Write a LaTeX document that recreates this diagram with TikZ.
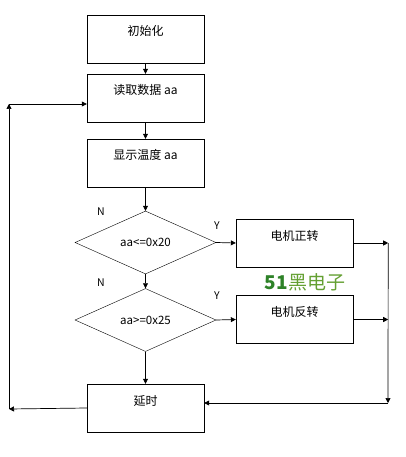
\documentclass[tikz,border=0pt]{standalone}
\usepackage{fontspec}
\setmainfont{Noto Sans CJK SC}
\usepackage{xcolor}
\usetikzlibrary{arrows.meta, positioning, shapes.geometric}

\definecolor{markdark}{RGB}{46,130,40}
\definecolor{marklight}{RGB}{100,160,50}

\begin{document}
\begin{tikzpicture}[
        x=1pt, y=-1pt,
        box/.style={
            draw,
            minimum width=117pt,
            minimum height=48pt,
            text height=9pt,
            text depth=15pt,
            inner sep=0pt,
            font=\fontsize{12}{14}\selectfont
        },
        decision/.style={
            draw,
            diamond,
            aspect=2.24,
            minimum width=141pt,
            minimum height=63pt,
            inner sep=0pt,
            font=\fontsize{11.5}{14}\selectfont
        },
        yn/.style={font=\fontsize{10.5}{12}\selectfont},
        arrow/.style={
            -{Triangle[length=5pt, width=5pt]},
            line width=0.7pt
        }
    ]
    \useasboundingbox (0,0) rectangle (406,457);

    \node[box] (init) at (145.5,39) {初始化};
    \node[box] (read) at (145.5,98) {读取数据 aa};
    \node[box] (show) at (145.5,163) {显示温度 aa};

    \node[decision] (cmp1) at (145.5,242.5) {aa<=0x20};
    \node[decision] (cmp2) at (145.5,320) {aa>=0x25};

    \node[box] (fwd) at (294.5,243) {电机正转};
    \node[box] (rev) at (294.5,319.5) {电机反转};
    \node[box] (delay) at (145.5,408) {延时};

    \node[yn] (n1) at (101,212) {N};
    \node[yn] (y1) at (217,226) {Y};
    \node[yn] (n2) at (101,283) {N};
    \node[yn] (y2) at (217,296) {Y};

    \node[font=\fontsize{19}{22}\selectfont] (mark) at (305,282)
    {\textbf{\color{markdark}51}\color{marklight}黑电子};

    \coordinate (fwdend) at ([xshift=35pt]fwd.east);
    \coordinate (revend) at ([xshift=35pt]rev.east);
    \coordinate (rcorner) at (388,403);
    \coordinate (lbot) at (9,409);
    \coordinate (ltop) at (9,104);

    % main flow
    \draw[arrow] (init) -- (read);
    \draw[arrow] (read) -- (show);
    \draw[arrow] (show) -- (cmp1);
    \draw[arrow] (cmp1) -- (cmp2);
    \draw[arrow] (cmp2) -- (delay);
    \draw[arrow] (cmp1.east) -- (fwd.west);
    \draw[arrow] (cmp2.east) -- (rev.west);

    % back to delay
    \draw[arrow] (fwd.east) -- (fwdend);
    \draw[arrow] (rev.east) -- (revend);
    \draw[arrow] (fwdend) -- (rcorner);
    \draw[arrow] (rcorner) -- ([yshift=5pt]delay.east);

    % loop
    \draw[arrow] (delay.west) -- (lbot);
    \draw[arrow] (lbot) -- (ltop);
    \draw[arrow] (ltop) -- (ltop -| read.west);

\end{tikzpicture}
\end{document}
